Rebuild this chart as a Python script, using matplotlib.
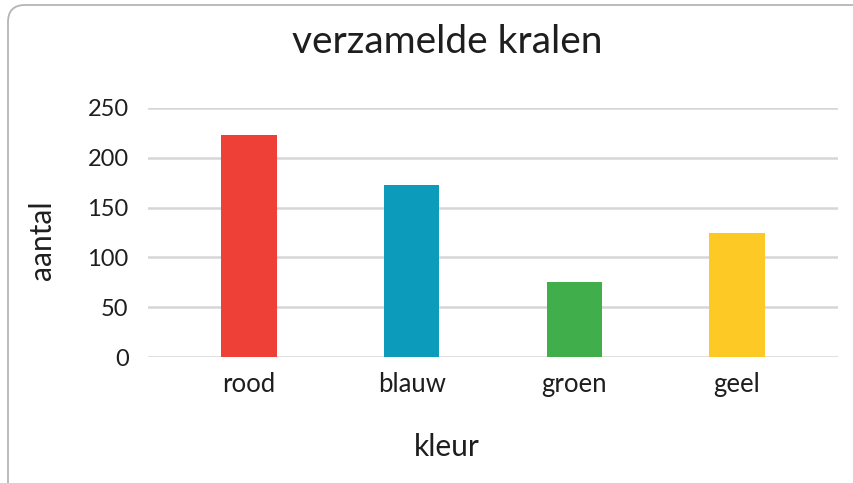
import matplotlib
matplotlib.use("Agg")
import matplotlib.pyplot as plt
from matplotlib.patches import FancyBboxPatch

# verzamelde kralen per kleur
kleuren = ["rood", "blauw", "groen", "geel"]
aantallen = [223, 173, 75, 125]
balkkleuren = ["#ee4036", "#0c9bba", "#40ae4a", "#fdc925"]
yticks = [0, 50, 100, 150, 200, 250]

plt.rcParams["font.family"] = ["Lato", "DejaVu Sans"]
tekst = "#1e1e1e"

fig = plt.figure(figsize=(8.54, 4.83), dpi=100)
ax = fig.add_axes([148 / 854, 126 / 483, 690 / 854, 249 / 483])

ax.bar(range(len(kleuren)), aantallen, width=0.34, color=balkkleuren, zorder=3)
ax.set_xlim(-0.62, 3.62)
ax.set_ylim(0, 250)
ax.set_yticks(yticks)
ax.set_xticks(range(len(kleuren)))
ax.set_xticklabels(kleuren)
ax.yaxis.grid(True, color="#d6d6d6", linewidth=1.8, zorder=0)
ax.set_axisbelow(True)
for s in ax.spines.values():
    s.set_visible(False)
ax.tick_params(axis="both", length=0, colors=tekst)
ax.tick_params(axis="y", pad=14, labelsize=17)
ax.tick_params(axis="x", pad=11, labelsize=18.5)

fig.text(447 / 854, 1 - 42 / 483, "verzamelde kralen", ha="center", va="center",
         fontsize=28, color=tekst)
fig.text(447 / 854, 1 - 447 / 483, "kleur", ha="center", va="center",
         fontsize=21.5, color=tekst)
fig.text(42 / 854, 1 - 240 / 483, "aantal", ha="center", va="center",
         rotation=90, fontsize=21.5, color=tekst)

# afgeronde kader rond de grafiek
kader = FancyBboxPatch((8 / 854, -0.2), 1.2, 1.2 - 5 / 483,
                       boxstyle="round,pad=0,rounding_size=0.02",
                       transform=fig.transFigure, fill=False,
                       edgecolor="#b5b5b5", linewidth=1.3,
                       mutation_aspect=854 / 483)
fig.patches.append(kader)

fig.savefig("out.png", dpi=100)
